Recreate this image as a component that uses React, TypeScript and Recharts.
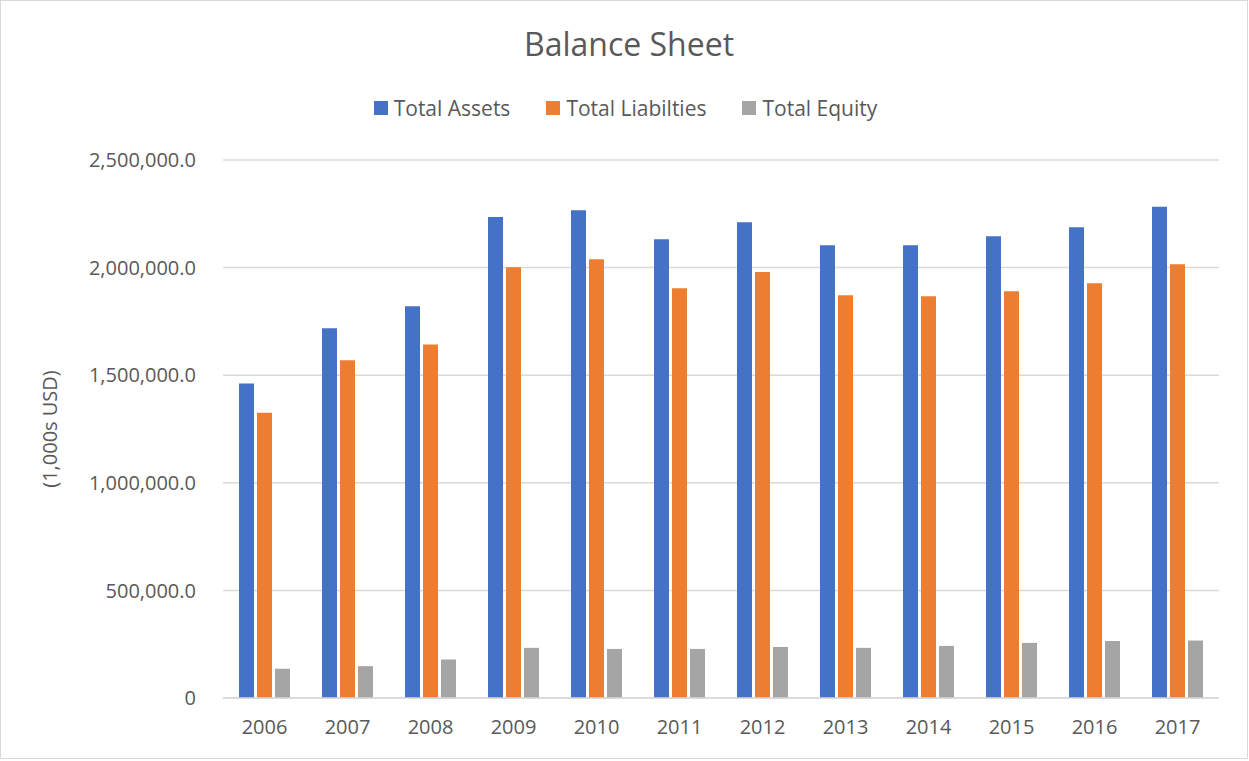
import { Bar, BarChart, CartesianGrid, Legend, XAxis, YAxis } from 'recharts'

const years = ['2006', '2007', '2008', '2009', '2010', '2011', '2012', '2013', '2014', '2015', '2016', '2017']
const totalAssets = [1461000, 1718000, 1820000, 2235000, 2267000, 2132000, 2211000, 2104000, 2104000, 2146000, 2188000, 2283000]
const totalLiabilities = [1326000, 1569000, 1643000, 2002000, 2039000, 1904000, 1979000, 1872000, 1867000, 1890000, 1927000, 2016000]
const totalEquity = [136000, 148000, 179000, 233000, 228000, 228000, 237000, 233000, 242000, 256000, 265000, 267000]
const yTicks = [0, 500000, 1000000, 1500000, 2000000, 2500000]
const seriesNames = ['Total Assets', 'Total Liabilties', 'Total Equity']

const data = years.map((year, i) => ({
  year,
  assets: totalAssets[i],
  liabilities: totalLiabilities[i],
  equity: totalEquity[i],
}))

const font = '"Open Sans", "Noto Sans", sans-serif'
const textColor = '#595959'

const fmt = (v: number) =>
  v === 0 ? '0' : v.toLocaleString('en-US', { minimumFractionDigits: 1, maximumFractionDigits: 1 })

function LegendContent({ payload }: any) {
  const items = [...(payload || [])].sort(
    (a: any, b: any) => seriesNames.indexOf(a.value) - seriesNames.indexOf(b.value)
  )
  return (
    <div style={{ display: 'flex', justifyContent: 'center', gap: 36, fontFamily: font, fontSize: 21, color: textColor }}>
      {items.map((p: any) => (
        <div key={p.value} style={{ display: 'flex', alignItems: 'center' }}>
          <span style={{ width: 14, height: 14, background: p.color, marginRight: 6, display: 'inline-block' }} />
          {p.value}
        </div>
      ))}
    </div>
  )
}

export default function App() {
  return (
    <div
      style={{
        position: 'absolute',
        left: 0,
        top: 0,
        width: 1248,
        height: 759,
        boxSizing: 'border-box',
        border: '1px solid #d9d9d9',
        background: '#fff',
        fontFamily: font,
      }}
    >
      <div
        style={{
          position: 'absolute',
          top: 21,
          left: 0,
          width: 1256,
          textAlign: 'center',
          fontSize: 32,
          color: textColor,
        }}
      >
        Balance Sheet
      </div>
      <div style={{ position: 'absolute', left: -1, top: -1 }}>
        <BarChart
          width={1249}
          height={761}
          data={data}
          margin={{ top: 132, right: 30, bottom: 33, left: 0 }}
          barSize={15}
          barGap={3}
        >
          <CartesianGrid vertical={false} stroke="#d9d9d9" strokeWidth={1.5} />
          <XAxis
            dataKey="year"
            tickLine={false}
            axisLine={{ stroke: '#d9d9d9', strokeWidth: 1.5 }}
            tick={{ fill: textColor, fontSize: 20, fontFamily: font }}
            tickMargin={16}
          />
          <YAxis
            width={223}
            domain={[0, 2500000]}
            ticks={yTicks}
            tickFormatter={fmt}
            tickLine={false}
            axisLine={false}
            tickMargin={21}
            tick={{ fill: textColor, fontSize: 20, fontFamily: font }}
            label={{
              value: '(1,000s USD)',
              angle: -90,
              position: 'insideLeft',
              offset: 50,
              textAnchor: 'middle',
              style: { fill: textColor, fontSize: 20, fontFamily: font },
            }}
          />
          <Legend verticalAlign="top" wrapperStyle={{ top: 94, left: 16 }} content={<LegendContent />} />
          <Bar dataKey="assets" name="Total Assets" fill="#4472C4" isAnimationActive={false} />
          <Bar dataKey="liabilities" name="Total Liabilties" fill="#ED7D31" isAnimationActive={false} />
          <Bar dataKey="equity" name="Total Equity" fill="#A5A5A5" isAnimationActive={false} />
        </BarChart>
      </div>
    </div>
  )
}
